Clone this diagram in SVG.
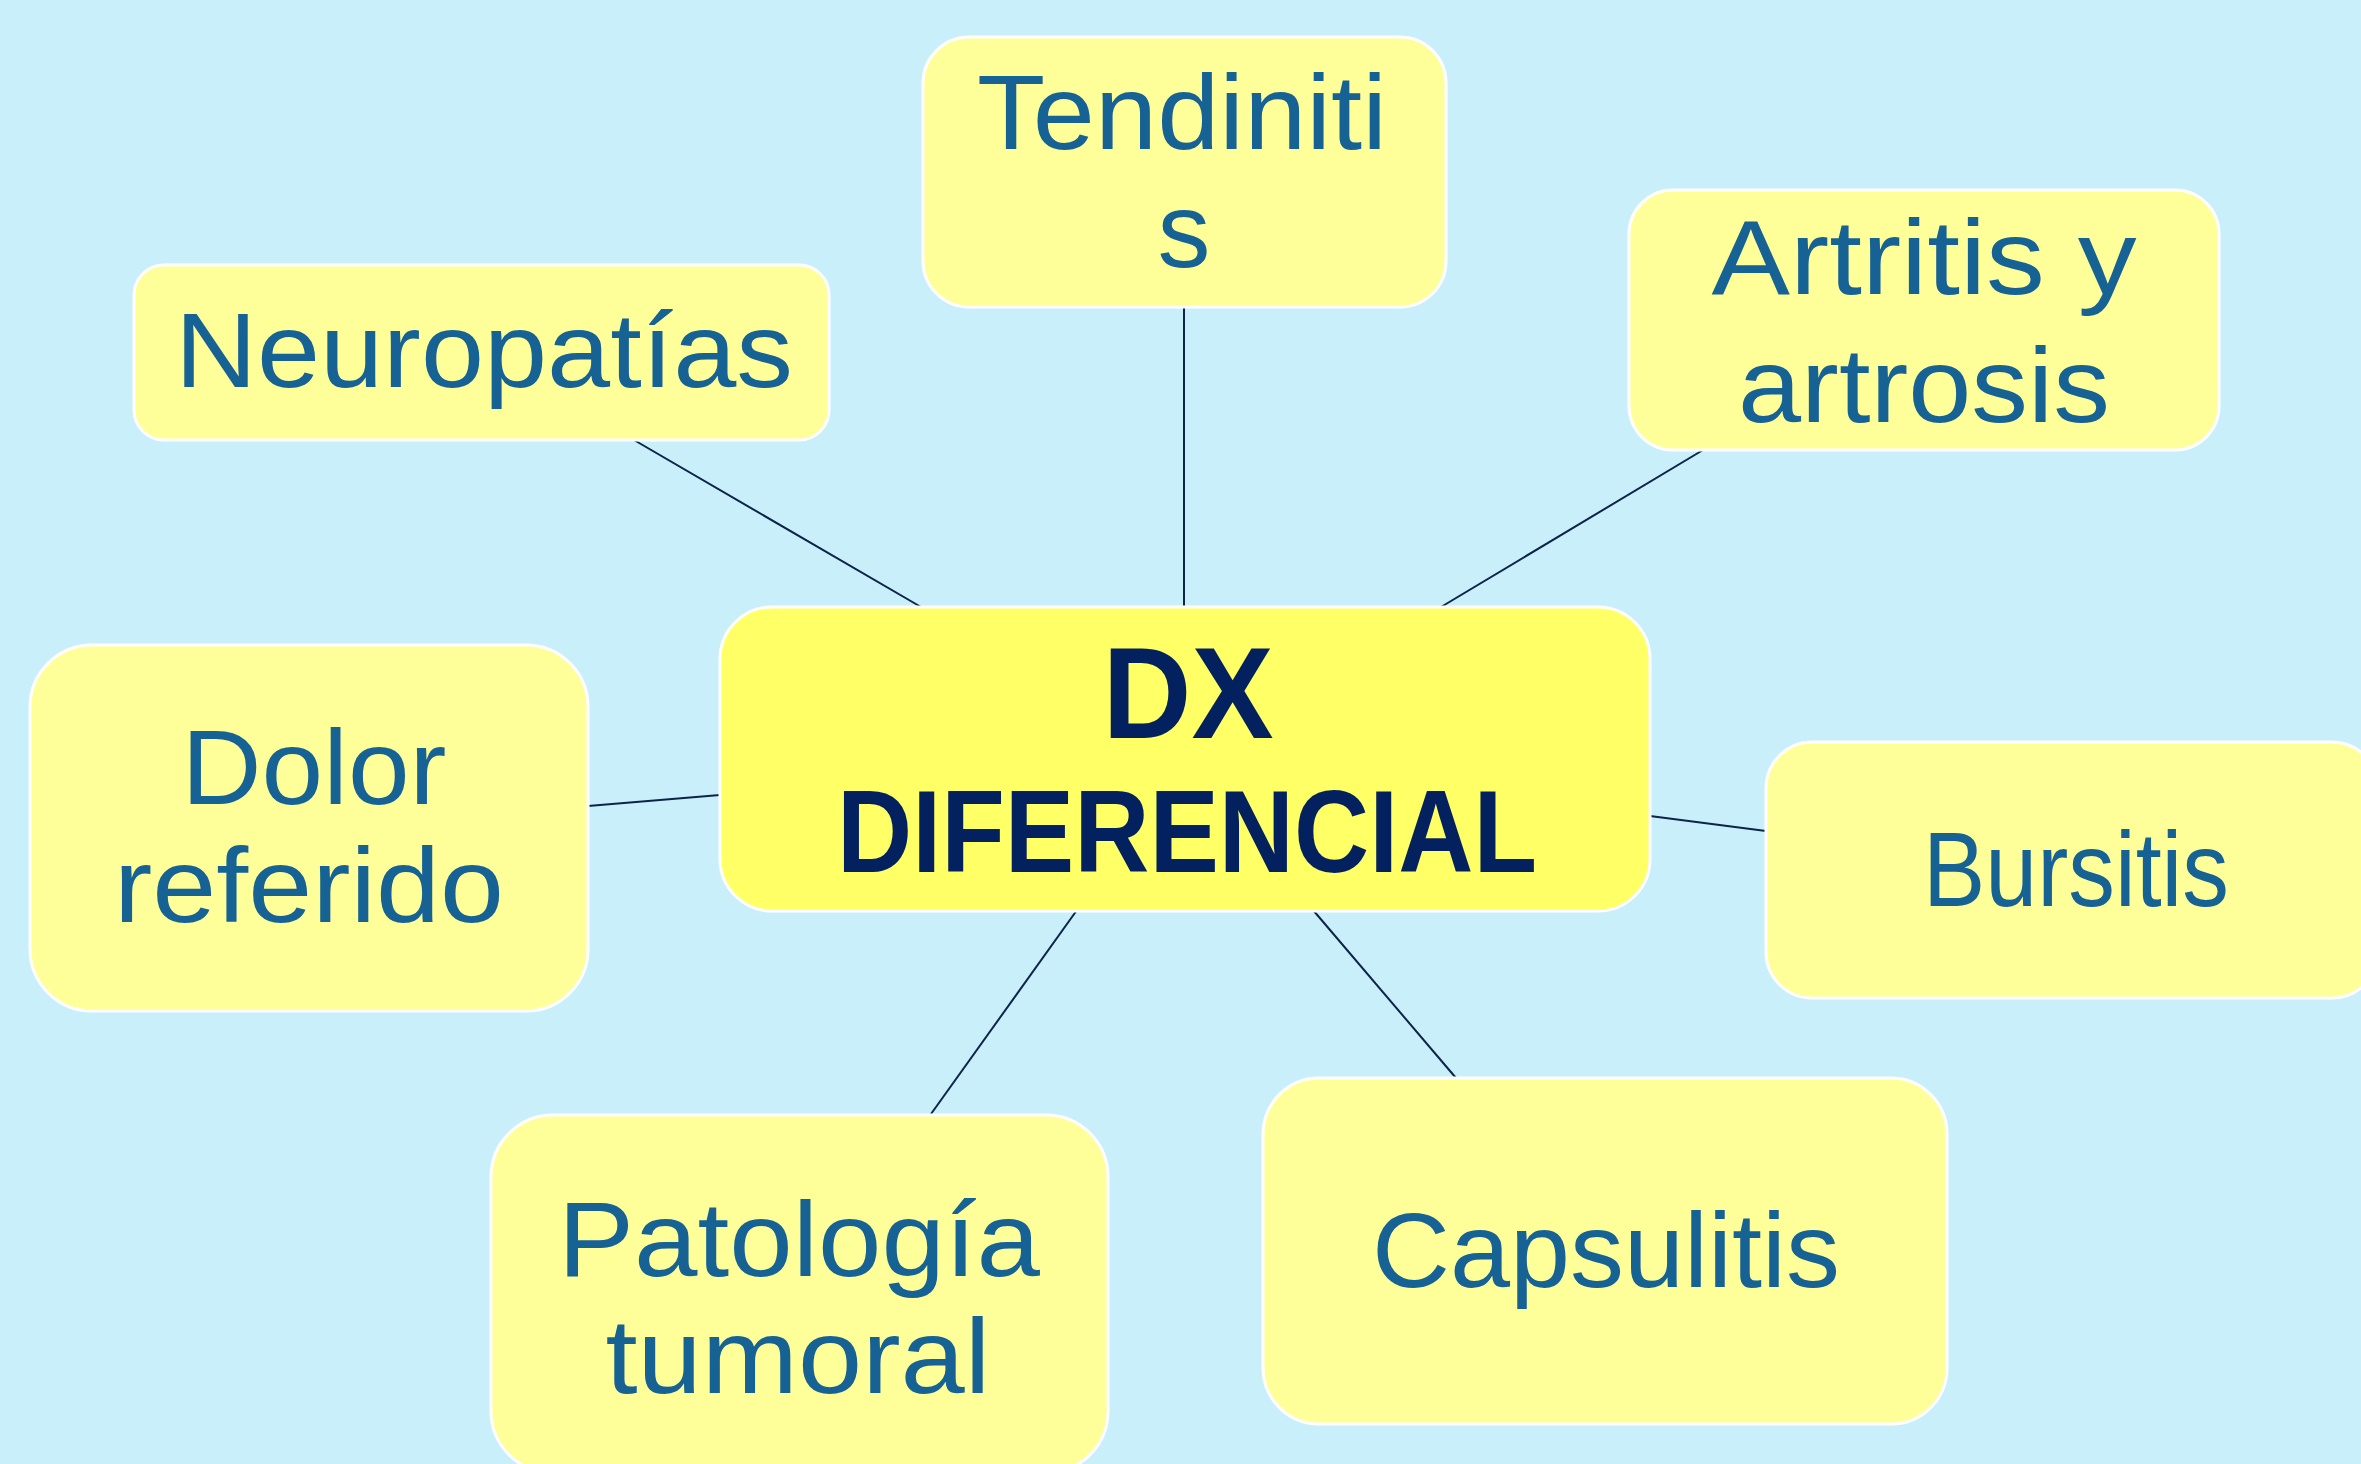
<svg xmlns="http://www.w3.org/2000/svg" width="2361" height="1464" viewBox="0 0 2361 1464">
<style>
.node rect{fill:#ffff99;stroke:#ffffff;stroke-width:3}
#center rect{fill:#ffff66}
.lbl{font-family:"Liberation Sans",Arial,sans-serif;font-size:106px;fill:#176294;text-anchor:middle}
.ctr{font-family:"Liberation Sans",Arial,sans-serif;font-weight:bold;fill:#03205f;text-anchor:middle}
#connectors line{stroke:#0d2347;stroke-width:2}
</style>
<rect x="0" y="0" width="2361" height="1464" fill="#c9f0fa"/>
<g id="connectors">
<line x1="634" y1="440" x2="921" y2="607"/>
<line x1="1184" y1="307" x2="1184" y2="607"/>
<line x1="1703" y1="450" x2="1441" y2="607"/>
<line x1="588" y1="806" x2="720" y2="795"/>
<line x1="1650" y1="816" x2="1766" y2="831"/>
<line x1="1313" y1="910" x2="1456" y2="1078"/>
<line x1="1077" y1="910" x2="931" y2="1114"/>
</g>
<g id="center" class="node">
<rect x="720" y="607" width="930" height="304" rx="52" ry="52"/>
<text class="ctr" x="1188" y="738" font-size="130" textLength="171" lengthAdjust="spacingAndGlyphs">DX</text>
<text class="ctr" x="1187" y="872" font-size="117" textLength="700" lengthAdjust="spacingAndGlyphs">DIFERENCIAL</text>
</g>
<g id="tendinitis" class="node">
<rect x="923" y="37" width="523" height="270" rx="46" ry="46"/>
<text class="lbl" x="1182" y="149" textLength="410" lengthAdjust="spacingAndGlyphs">Tendiniti</text>
<text class="lbl" x="1184" y="267">s</text>
</g>
<g id="artritis" class="node">
<rect x="1629" y="190" width="590" height="260" rx="44" ry="44"/>
<text class="lbl" x="1924" y="294" textLength="425" lengthAdjust="spacingAndGlyphs">Artritis y</text>
<text class="lbl" x="1924" y="422" textLength="372" lengthAdjust="spacingAndGlyphs">artrosis</text>
</g>
<g id="neuropatias" class="node">
<rect x="134" y="265" width="695" height="175" rx="30" ry="30"/>
<text class="lbl" x="484" y="387" textLength="618" lengthAdjust="spacingAndGlyphs">Neuropatías</text>
</g>
<g id="dolor" class="node">
<rect x="30" y="645" width="558" height="366" rx="62" ry="62"/>
<text class="lbl" x="314" y="804" textLength="265" lengthAdjust="spacingAndGlyphs">Dolor</text>
<text class="lbl" x="309" y="922" textLength="390" lengthAdjust="spacingAndGlyphs">referido</text>
</g>
<g id="bursitis" class="node">
<rect x="1766" y="742" width="612" height="256" rx="46" ry="46"/>
<text class="lbl" x="2076" y="906" textLength="306" lengthAdjust="spacingAndGlyphs">Bursitis</text>
</g>
<g id="capsulitis" class="node">
<rect x="1263" y="1078" width="684" height="346" rx="56" ry="56"/>
<text class="lbl" x="1606" y="1287" textLength="468" lengthAdjust="spacingAndGlyphs">Capsulitis</text>
</g>
<g id="patologia" class="node">
<rect x="491" y="1115" width="617" height="358" rx="62" ry="62"/>
<text class="lbl" x="799" y="1276" textLength="482" lengthAdjust="spacingAndGlyphs">Patología</text>
<text class="lbl" x="798" y="1393" textLength="385" lengthAdjust="spacingAndGlyphs">tumoral</text>
</g>
</svg>
